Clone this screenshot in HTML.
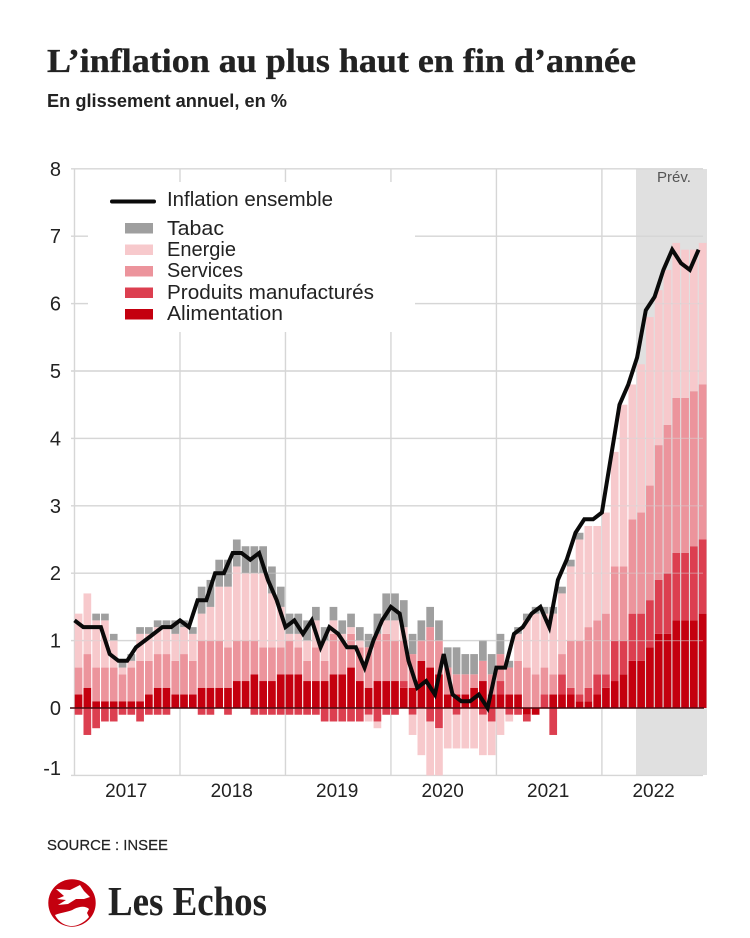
<!DOCTYPE html>
<html lang="fr">
<head>
<meta charset="utf-8">
<title>L'inflation au plus haut en fin d'année</title>
<style>
html,body{margin:0;padding:0;background:#fff;width:750px;height:938px;overflow:hidden}
svg{display:block;font-family:"Liberation Sans",sans-serif}
</style>
</head>
<body>
<svg id="chart" width="750" height="938" viewBox="0 0 750 938" xmlns="http://www.w3.org/2000/svg">
  <text x="47" y="72" font-family="'Liberation Serif',serif" font-weight="700" font-size="34" fill="#222" stroke="#222" stroke-width="0.35" textLength="589" lengthAdjust="spacingAndGlyphs">L’inflation au plus haut en fin d’année</text>
  <text x="47" y="107" font-weight="700" font-size="18" fill="#222" textLength="240" lengthAdjust="spacingAndGlyphs">En glissement annuel, en %</text>
  <rect x="636" y="169" width="71" height="606" fill="#e0e0e0"/>
  <g id="grid-under"></g>
  <g id="bars"></g>
  <g id="grid-over"></g>
  <g id="zero-axis"></g>
  <path id="inflation-line" fill="none" stroke="#0a0a0a" stroke-width="4" stroke-linejoin="miter"/>
  <g id="y-ticks"></g>
  <g id="x-ticks"></g>
  <text x="657" y="182" font-size="14.5" fill="#555" textLength="34" lengthAdjust="spacingAndGlyphs">Prév.</text>

  <g>
    <rect x="88" y="182" width="327" height="150" fill="#fff"/>
    <line x1="112" x2="154" y1="201.5" y2="201.5" stroke="#0a0a0a" stroke-width="4" stroke-linecap="round"/>
    <text x="167" y="206" font-size="20" fill="#222" textLength="166" lengthAdjust="spacingAndGlyphs">Inflation ensemble</text>
    <rect x="125" y="223" width="28" height="10.500" fill="#9f9f9f"/>
    <text x="167" y="235" font-size="20" fill="#222" textLength="57" lengthAdjust="spacingAndGlyphs">Tabac</text>
    <rect x="125" y="244.500" width="28" height="10.500" fill="#f7c9cc"/>
    <text x="167" y="256" font-size="20" fill="#222" textLength="69" lengthAdjust="spacingAndGlyphs">Energie</text>
    <rect x="125" y="266" width="28" height="10.500" fill="#ec949c"/>
    <text x="167" y="277" font-size="20" fill="#222" textLength="76" lengthAdjust="spacingAndGlyphs">Services</text>
    <rect x="125" y="287.500" width="28" height="10.500" fill="#dc3f50"/>
    <text x="167" y="299" font-size="20" fill="#222" textLength="207" lengthAdjust="spacingAndGlyphs">Produits manufacturés</text>
    <rect x="125" y="309" width="28" height="10.500" fill="#c4000f"/>
    <text x="167" y="320" font-size="20" fill="#222" textLength="116" lengthAdjust="spacingAndGlyphs">Alimentation</text>
  </g>

  <text x="47" y="850" font-size="14.500" fill="#222" stroke="#222" stroke-width="0.2" textLength="121" lengthAdjust="spacingAndGlyphs">SOURCE : INSEE</text>

  <g>
    <circle cx="72" cy="903" r="23.700" fill="#c4000f"/>
    <path fill="#fff" d="M56 889 L70 890 L80 885 L84 891 L90 897 L84 899 L76 899 L68 904 L58 905 L66 900 L57 899 L64 896 Z"/>
    <path fill="#fff" d="M55 915 C62 912 70 912 74 909 C80 906 86 906 89 909 L87 913 L89 917 C84 923 77 926 72 926 C64 926 58 921 55 915 Z"/>
    <text x="108" y="915" font-family="'Liberation Serif',serif" font-weight="700" font-size="41" fill="#222" textLength="159" lengthAdjust="spacingAndGlyphs">Les Echos</text>
  </g>
</svg>

<script>
// Chart data. Months Jan 2017 to Dec 2022, in percentage points.
const years = ["2017", "2018", "2019", "2020", "2021", "2022"];
const yTicks = [8, 7, 6, 5, 4, 3, 2, 1, 0, -1];
const alimentation = [.2,.3,.1,.1,.1,.1,.1,.1,.2,.3,.3,.2,.2,.2,.3,.3,.3,.3,.4,.4,.5,.4,.4,.5,.5,.5,.4,.4,.4,.5,.5,.6,.4,.3,.4,.4,.4,.3,.3,.7,.6,.5,.2,.2,.2,.3,.4,.2,.2,.2,.2,-.1,-.1,0,.2,.2,.2,.1,.1,.2,.3,.4,.5,.7,.7,.9,1.1,1.1,1.3,1.3,1.3,1.4];
const produits = [-.1,-.4,-.3,-.2,-.2,-.1,-.1,-.2,-.1,-.1,-.1,0,0,0,-.1,-.1,0,-.1,0,0,-.1,-.1,-.1,-.1,-.1,-.1,-.1,-.1,-.2,-.2,-.2,-.2,-.2,-.1,-.2,-.1,-.1,.1,-.1,0,-.2,-.3,0,-.1,0,0,-.1,-.2,.2,-.1,-.1,-.1,0,.2,-.4,.3,.1,.1,.2,.3,.2,.6,.5,.7,.7,.7,.8,.9,1,1,1.1,1.1];
const services = [.4,.5,.5,.5,.5,.4,.5,.6,.5,.5,.5,.5,.6,.5,.7,.7,.7,.6,.6,.6,.5,.5,.5,.4,.5,.4,.3,.5,.3,.6,.5,.5,.5,.6,.7,.7,.6,.6,.5,.3,.6,.5,.4,.3,.3,.2,.3,.3,.4,.4,.5,.6,.5,.4,.3,.3,.7,.8,.9,.8,.9,1.1,1.1,1.4,1.5,1.7,2,2.2,2.3,2.3,2.3,2.3];
const energie = [.8,.9,.7,.7,.4,.1,.1,.4,.4,.4,.4,.4,.4,.4,.4,.5,.8,.9,1.1,1,1,1.1,.8,.6,.1,.2,.3,.4,.3,.2,.1,.1,.1,-.1,-.1,.2,.3,.2,-.3,-.7,-.8,-.7,-.6,-.5,-.6,-.6,-.6,-.5,-.4,-.1,.4,.7,.9,.8,.9,.9,1.1,1.5,1.5,1.4,1.5,1.7,2.4,2,2.2,2.5,2.3,2.3,2.3,2.2,2.1,2.1];
const tabac = [0,0,.1,.1,.1,.1,.1,.1,.1,.1,.1,.2,.1,.1,.4,.4,.4,.4,.4,.4,.4,.4,.4,.3,.3,.3,.3,.2,.2,.2,.2,.2,.2,.2,.3,.4,.4,.4,.3,.3,.3,.3,.3,.4,.3,.3,.3,.3,.3,.1,.1,.1,.1,.1,.1,.1,.1,.1,0,0,0,0,0,0,0,0,0,0,0,0,0,0];
const inflation = [1.3,1.2,1.2,1.2,.8,.7,.7,.9,1,1.1,1.2,1.2,1.3,1.2,1.6,1.6,2,2,2.3,2.3,2.2,2.3,1.9,1.6,1.2,1.3,1.1,1.3,.9,1.2,1.1,.9,.9,.6,1,1.3,1.5,1.4,.7,.3,.4,.2,.8,.2,.1,.1,.2,0,.6,.6,1.1,1.2,1.4,1.5,1.2,1.9,2.2,2.6,2.8,2.8,2.9,3.7,4.5,4.8,5.2,5.9,6.1,6.5,6.8,6.6,6.5,6.8];

const seriesNames = ["alimentation", "produits", "services", "energie", "tabac"];
const seriesValues = [alimentation, produits, services, energie, tabac];
const seriesColors = ["#c4000f", "#dc3f50", "#ec949c", "#f7c9cc", "#9f9f9f"];

const NS = "http://www.w3.org/2000/svg";
const plotLeft = 74.5, plotRight = 707, monthStep = 8.79, barWidth = 7.7;
const zeroY = 708, unitY = 67.4;
const xScale = function (i) { return plotLeft + i * monthStep; };
const yScale = function (v) { return zeroY - v * unitY; };

function make(tag, attrs, parent) {
  const el = document.createElementNS(NS, tag);
  for (const k in attrs) el.setAttribute(k, attrs[k]);
  parent.appendChild(el);
  return el;
}

const gridUnder = document.getElementById("grid-under");
const gridOver = document.getElementById("grid-over");
const barsGroup = document.getElementById("bars");
const yGroup = document.getElementById("y-ticks");
const xGroup = document.getElementById("x-ticks");
const zeroGroup = document.getElementById("zero-axis");

yTicks.forEach(function (t) {
  const y = yScale(t);
  const gl = make("line", {x1: 71, x2: 703, y1: y, y2: y, stroke: "#d6d6d6", "stroke-width": 1.4}, gridUnder);
  
  
  if (t !== 0 && t !== 8 && t !== -1) {
    const over = make("line", {x1: 71, x2: 703, y1: y, y2: y, stroke: "#d6d6d6", "stroke-opacity": 0.45, "stroke-width": 1.2}, gridOver);
    
    
  }
  const label = make("text", {x: 61, y: t === -1 ? 775 : y + 7, "text-anchor": "end", "font-size": 20, fill: "#222"}, yGroup);
  label.textContent = String(t);
  
  
});

for (let j = 0; j < years.length; j++) {
  const x = xScale(j * 12);
  const gl = make("line", {x1: x, x2: x, y1: yScale(8), y2: yScale(-1), stroke: "#d6d6d6", "stroke-width": 1.4}, gridUnder);
  
  
}

years.forEach(function (yr, j) {
  const label = make("text", {x: xScale(j * 12 + 6) - 1, y: 797, "text-anchor": "middle", "font-size": 19, fill: "#222"}, xGroup);
  label.textContent = yr;
  
  
});

inflation.forEach(function (_, i) {
  let pos = 0, neg = 0;
  seriesValues.forEach(function (vals, s) {
    const v = vals[i];
    if (v === 0) return;
    let top, bottom;
    if (v > 0) { bottom = pos; pos += v; top = pos; }
    else { top = neg; neg += v; bottom = neg; }
    const r = make("rect", {x: xScale(i) + 0.2, y: yScale(top), width: barWidth, height: yScale(bottom) - yScale(top), fill: seriesColors[s]}, barsGroup);
    
    
  });
});

const zl = make("line", {x1: 70, x2: 704, y1: zeroY, y2: zeroY, stroke: "#4a0a10", "stroke-width": 1.4}, zeroGroup);



document.getElementById("inflation-line").setAttribute("d",
  inflation.map(function (v, i) { return (i ? "L" : "M") + xScale(i).toFixed(1) + " " + yScale(v).toFixed(1); }).join(" "));
</script>
</body>
</html>
